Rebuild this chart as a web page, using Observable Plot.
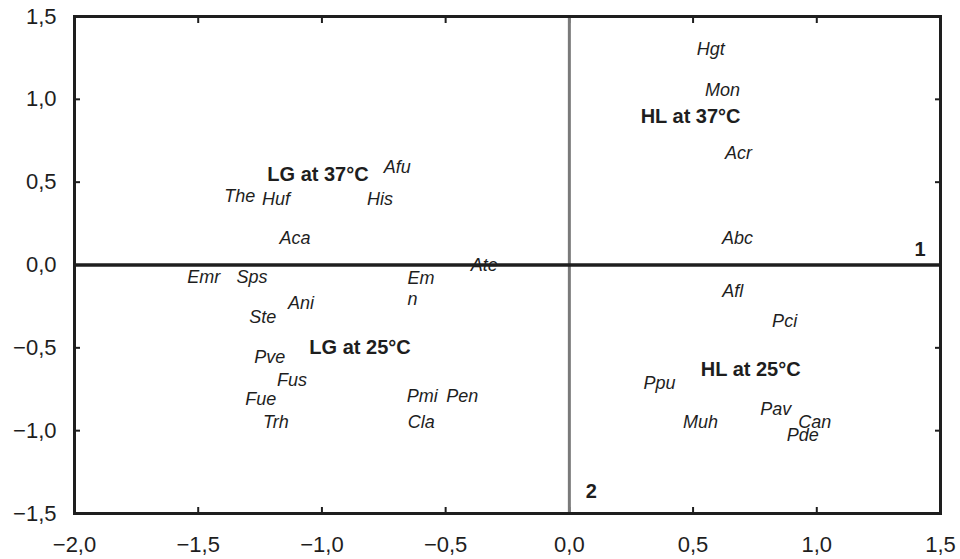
<!DOCTYPE html>
<html>
<head>
<meta charset="utf-8">
<script src="https://cdn.jsdelivr.net/npm/d3@7"></script>
<script src="https://cdn.jsdelivr.net/npm/@observablehq/plot@0.6"></script>
<style>
  html, body { margin: 0; padding: 0; background: #fff; }
  svg { font-family: "Liberation Sans", Arial, sans-serif; }
</style>
</head>
<body>
<div id="chart"></div>
<script>
// Species labels (italic) with coordinates
const species = ["Hgt","Mon","Acr","Abc","Afl","Pci","Ppu","Pav","Can","Pde","Muh",
  "Afu","The","Huf","His","Aca","Ate","Emr","Sps","Ani","Ste","Pve","Fus","Fue","Trh","Pmi","Pen","Cla"];
const dim1 = [0.571,0.619,0.684,0.680,0.660,0.870,0.364,0.834,0.992,0.943,0.530,
  -0.696,-1.332,-1.186,-0.765,-1.109,-0.344,-1.478,-1.283,-1.085,-1.239,-1.211,-1.121,-1.247,-1.186,-0.595,-0.433,-0.599];
const dim2 = [1.301,1.054,0.675,0.163,-0.157,-0.337,-0.711,-0.873,-0.952,-1.030,-0.952,
  0.590,0.416,0.398,0.398,0.163,0.0,-0.072,-0.072,-0.229,-0.313,-0.554,-0.693,-0.813,-0.952,-0.795,-0.795,-0.952];

// Wrapped species label (left-aligned, two lines)
const wrapped = ["Em\nn"];
const wrappedX = [-0.654];
const wrappedY = [-0.136];

// Group labels (bold)
const groups = ["LG at 37°C","HL at 37°C","LG at 25°C","HL at 25°C"];
const groupX = [-1.016, 0.490, -0.846, 0.733];
const groupY = [0.548, 0.898, -0.500, -0.633];

// Axis labels
const axisNames = ["1","2"];
const axisNameX = [1.417, 0.089];
const axisNameY = [0.096, -1.367];

const xTicks = [-2.0,-1.5,-1.0,-0.5,0.0,0.5,1.0,1.5];
const yTicks = [-1.5,-1.0,-0.5,0.0,0.5,1.0,1.5];

const fmt = v => (v < 0 ? "\u2212" : "") + Math.abs(v).toFixed(1).replace(".", ",");
const blank = () => "";

const spData = species.map((s, i) => ({label: s, x: dim1[i], y: dim2[i]}));
const wrData = wrapped.map((s, i) => ({label: s, x: wrappedX[i], y: wrappedY[i]}));
const grData = groups.map((s, i) => ({label: s, x: groupX[i], y: groupY[i]}));
const axData = axisNames.map((s, i) => ({label: s, x: axisNameX[i], y: axisNameY[i]}));

const ink = "#1e1e1e";

const chart = Plot.plot({
  width: 960,
  height: 559,
  marginLeft: 74,
  marginRight: 20,
  marginTop: 16,
  marginBottom: 46,
  style: {fontFamily: "'Liberation Sans', Arial, sans-serif", color: ink},
  x: {domain: [-2, 1.5]},
  y: {domain: [-1.5, 1.5]},
  marks: [
    Plot.axisX(xTicks, {anchor: "bottom", tickSize: -6, tickPadding: 29, tickFormat: fmt, fontSize: 22, strokeWidth: 2, label: null}),
    Plot.axisX(xTicks, {anchor: "top", tickSize: -6, tickFormat: blank, strokeWidth: 2, label: null}),
    Plot.axisY(yTicks, {anchor: "left", tickSize: -6, tickPadding: 24, tickFormat: fmt, fontSize: 22, strokeWidth: 2, label: null}),
    Plot.axisY(yTicks, {anchor: "right", tickSize: -6, tickFormat: blank, strokeWidth: 2, label: null}),
    Plot.ruleX([0], {stroke: "#7a7a7a", strokeWidth: 3}),
    Plot.ruleY([0], {stroke: ink, strokeWidth: 3.5}),
    Plot.frame({stroke: ink, strokeWidth: 3}),
    Plot.text(spData, {x: "x", y: "y", text: "label", fontSize: 18, fontStyle: "italic", fill: ink, textAnchor: "middle"}),
    Plot.text(wrData, {x: "x", y: "y", text: "label", fontSize: 18, fontStyle: "italic", fill: ink, textAnchor: "start", lineHeight: 1.2}),
    Plot.text(grData, {x: "x", y: "y", text: "label", fontSize: 20, fontWeight: "bold", fill: ink}),
    Plot.text(axData, {x: "x", y: "y", text: "label", fontSize: 20, fontWeight: "bold", fill: ink})
  ]
});
document.getElementById("chart").appendChild(chart);
</script>
</body>
</html>
